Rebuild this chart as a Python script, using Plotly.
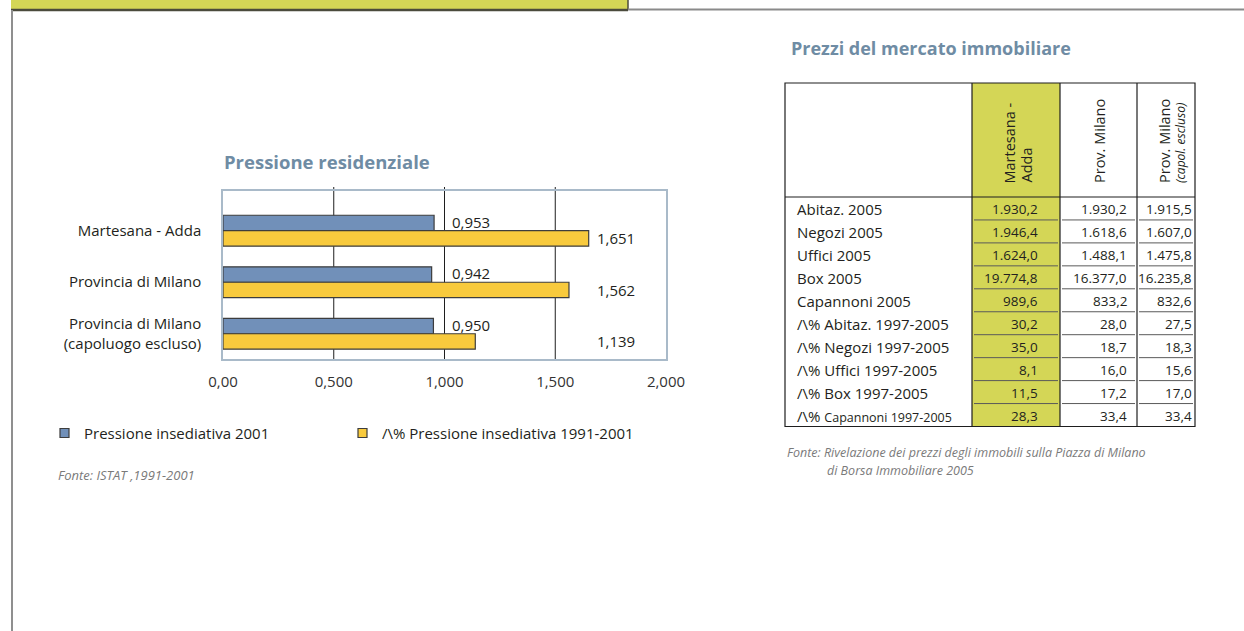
import plotly.graph_objects as go

# ---------------- data ----------------
categories = ["Martesana - Adda", "Provincia di Milano", "Provincia di Milano<br>(capoluogo escluso)"]
pressione_2001 = [0.953, 0.942, 0.950]
var_pressione_1991_2001 = [1.651, 1.562, 1.139]
x_tick_values = [0, 0.5, 1.0, 1.5, 2.0]
x_tick_labels = ["0,00", "0,500", "1,000", "1,500", "2,000"]
series_names = ["Pressione insediativa 2001", "/\\% Pressione insediativa 1991-2001"]

table_row_labels = [
    "Abitaz. 2005", "Negozi 2005", "Uffici 2005", "Box 2005", "Capannoni 2005",
    "/\\% Abitaz. 1997-2005", "/\\% Negozi 1997-2005", "/\\% Uffici 1997-2005",
    "/\\% Box 1997-2005", "/\\% <span style='font-size:12.5px'>Capannoni 1997-2005</span>",
]
martesana_adda = [1930.2, 1946.4, 1624.0, 19774.8, 989.6, 30.2, 35.0, 8.1, 11.5, 28.3]
prov_milano = [1930.2, 1618.6, 1488.1, 16377.0, 833.2, 28.0, 18.7, 16.0, 17.2, 33.4]
prov_milano_escl = [1915.5, 1607.0, 1475.8, 16235.8, 832.6, 27.5, 18.3, 15.6, 17.0, 33.4]

# ---------------- page geometry helpers ----------------
W, H = 1244, 631
def px(x):
    return x / W
def py(y):
    return 1 - y / H

FONT = "Open Sans, Noto Sans, DejaVu Sans, sans-serif"
NARROW = "Liberation Sans Narrow, Open Sans, sans-serif"
TITLE_COLOR = "#6f8ca4"
TEXT_COLOR = "#231f20"
NOTE_COLOR = "#7a7a7a"
HILITE = "#d4d656"
BLUE = "#7190b9"
YELLOW = "#f8ca3d"
OUTLINE = "#3d3d3d"

def it_fmt(v, dec):
    s = f"{v:,.{dec}f}"
    return s.replace(",", "X").replace(".", ",").replace("X", ".")

def pa(x, y, text, size, color=TEXT_COLOR, family=FONT, xanchor="left", yanchor="middle", angle=0, pad=1):
    return dict(x=px(x), y=py(y), xref="paper", yref="paper", text=text, showarrow=False,
                xanchor=xanchor, yanchor=yanchor, textangle=angle, borderpad=pad,
                font=dict(family=family, size=size, color=color))

def pline(x0, y0, x1, y1, color, width):
    return dict(type="line", xref="paper", yref="paper", x0=px(x0), x1=px(x1), y0=py(y0), y1=py(y1),
                line=dict(color=color, width=width))

cat_pos = list(range(len(categories)))
series_values = [pressione_2001, var_pressione_1991_2001]
series_colors = [BLUE, YELLOW]

fig = go.Figure()
for name, vals, col in zip(series_names, series_values, series_colors):
    fig.add_trace(go.Bar(
        y=cat_pos, x=vals, orientation="h", name=name,
        marker=dict(color=col, line=dict(color=OUTLINE, width=1.2)),
        hoverinfo="skip", showlegend=False,
    ))

shapes = []
annotations = []

# vertical gridlines (inner ticks only)
for t in x_tick_values[1:-1]:
    shapes.append(dict(type="line", xref="x", yref="paper", x0=t, x1=t,
                       y0=py(359), y1=py(187), line=dict(color="#1e1e1e", width=1), layer="below"))

# bar value labels
label_x = [1.027, 1.678]
label_dy = [-0.17, 0.15]
for s, vals in enumerate(series_values):
    for i, c in enumerate(cat_pos):
        annotations.append(dict(x=label_x[s], y=c + label_dy[s], xref="x", yref="y",
                                text=it_fmt(vals[i], 3), showarrow=False,
                                xanchor="left", yanchor="middle",
                                font=dict(family=FONT, size=15, color=TEXT_COLOR)))

# chart title
annotations.append(pa(222, 161, "<b>Pressione residenziale</b>", 18.5, TITLE_COLOR))

# manual legend
legend_sq_x = [60, 358]
legend_txt_x = [82, 380]
legend_y = 433
for name, col, sx, tx in zip(series_names, series_colors, legend_sq_x, legend_txt_x):
    shapes.append(dict(type="rect", xref="paper", yref="paper", x0=px(sx), x1=px(sx + 9),
                       y0=py(legend_y + 4.5), y1=py(legend_y - 4.5), fillcolor=col,
                       line=dict(color=OUTLINE, width=1.2)))
    annotations.append(pa(tx, legend_y, name, 15))

# source left
annotations.append(pa(56, 475, "<i>Fonte: ISTAT ,1991-2001</i>", 13, NOTE_COLOR, NARROW))

# ---------------- page frame ----------------
shapes.append(dict(type="rect", xref="paper", yref="paper", x0=px(11), x1=px(628), y0=py(10), y1=py(-2),
                   fillcolor=HILITE, line=dict(width=0), layer="below"))
shapes.append(pline(11, 10, 628, 10, "#4b4b3c", 2.5))
shapes.append(pline(628, 10, 628, -2, "#4b4b3c", 1.5))
shapes.append(pline(628, 9.5, 1250, 9.5, "#8a8a8a", 2))
shapes.append(pline(12, 10, 12, 640, "#8f8f8f", 2))

# ---------------- table ----------------
col_x = [785, 972, 1060, 1137, 1195]
t_top, h_bot = 83, 197
row_h = 22.95
t_bot = h_bot + row_h * len(table_row_labels)

annotations.append(pa(789, 48, "<b>Prezzi del mercato immobiliare</b>", 18, TITLE_COLOR))

shapes.append(dict(type="rect", xref="paper", yref="paper", x0=px(col_x[1]), x1=px(col_x[2]),
                   y0=py(t_bot), y1=py(t_top), fillcolor=HILITE, line=dict(width=0), layer="below"))
for r in range(1, len(table_row_labels)):
    yy = h_bot + r * row_h
    for c in range(1, 4):
        shapes.append(pline(col_x[c] + 2, yy, col_x[c + 1] - 2, yy, "#5a5a5a", 1))
shapes.append(pline(col_x[0], h_bot, col_x[-1], h_bot, "#1e1e1e", 1.2))
for c in range(1, 4):
    shapes.append(pline(col_x[c], t_bot, col_x[c], t_top, "#1e1e1e", 1.2))
shapes.append(dict(type="rect", xref="paper", yref="paper", x0=px(col_x[0]), x1=px(col_x[-1]),
                   y0=py(t_bot), y1=py(t_top), line=dict(color="#1e1e1e", width=1.2)))

# rotated column headers
header_lines = [
    (1009, "Martesana -", 14.5), (1026, "Adda", 14.5),
    (1099, "Prov. Milano", 14.5),
    (1164, "Prov. Milano", 14.5), (1180, "<i>(capol. escluso)</i>", 12),
]
for xc, txt, fs in header_lines:
    annotations.append(pa(xc, 185, txt, fs, xanchor="center", yanchor="bottom", angle=-90))

value_right = [1039, 1128, 1193]
for i, lab in enumerate(table_row_labels):
    yc = h_bot + (i + 0.5) * row_h + 1
    annotations.append(pa(795, yc, lab, 15))
    for j, col in enumerate([martesana_adda, prov_milano, prov_milano_escl]):
        annotations.append(pa(value_right[j], yc, it_fmt(col[i], 1), 13.5, xanchor="right", pad=0))

annotations.append(pa(786, 452.5, "<i>Fonte: Rivelazione dei prezzi degli immobili sulla Piazza di Milano</i>",
                      12.5, NOTE_COLOR, NARROW, pad=0))
annotations.append(pa(826, 470, "<i>di Borsa Immobiliare 2005</i>", 12.5, NOTE_COLOR, NARROW, pad=0))

fig.update_layout(
    width=W, height=H, margin=dict(l=0, r=0, t=0, b=0, autoexpand=False),
    paper_bgcolor="white", plot_bgcolor="white",
    barmode="group", bargap=0.4, bargroupgap=0,
    font=dict(family=FONT, size=15, color=TEXT_COLOR),
    showlegend=False,
    shapes=shapes, annotations=annotations,
)
fig.update_xaxes(domain=[px(223), px(666)], range=[0, 2], tickvals=x_tick_values, ticktext=x_tick_labels,
                 showgrid=False, showline=True, mirror=True, linecolor="#a9bac9", linewidth=1.5,
                 ticks="", zeroline=False, ticklabelstandoff=8, fixedrange=True, automargin=False,
                 tickfont=dict(family=FONT, size=15, color="#333333"))
fig.update_yaxes(domain=[py(359), py(191)], range=[2.49, -0.771], tickvals=cat_pos, ticktext=categories,
                 showgrid=False, showline=True, mirror=True, linecolor="#a9bac9", linewidth=1.5,
                 ticks="", zeroline=False, ticklabelstandoff=17, fixedrange=True, automargin=False,
                 tickfont=dict(family=FONT, size=15, color=TEXT_COLOR))

fig.write_html("out.html", config={"displayModeBar": False},
               post_script="document.body.style.margin='0';document.body.style.overflow='hidden';")
